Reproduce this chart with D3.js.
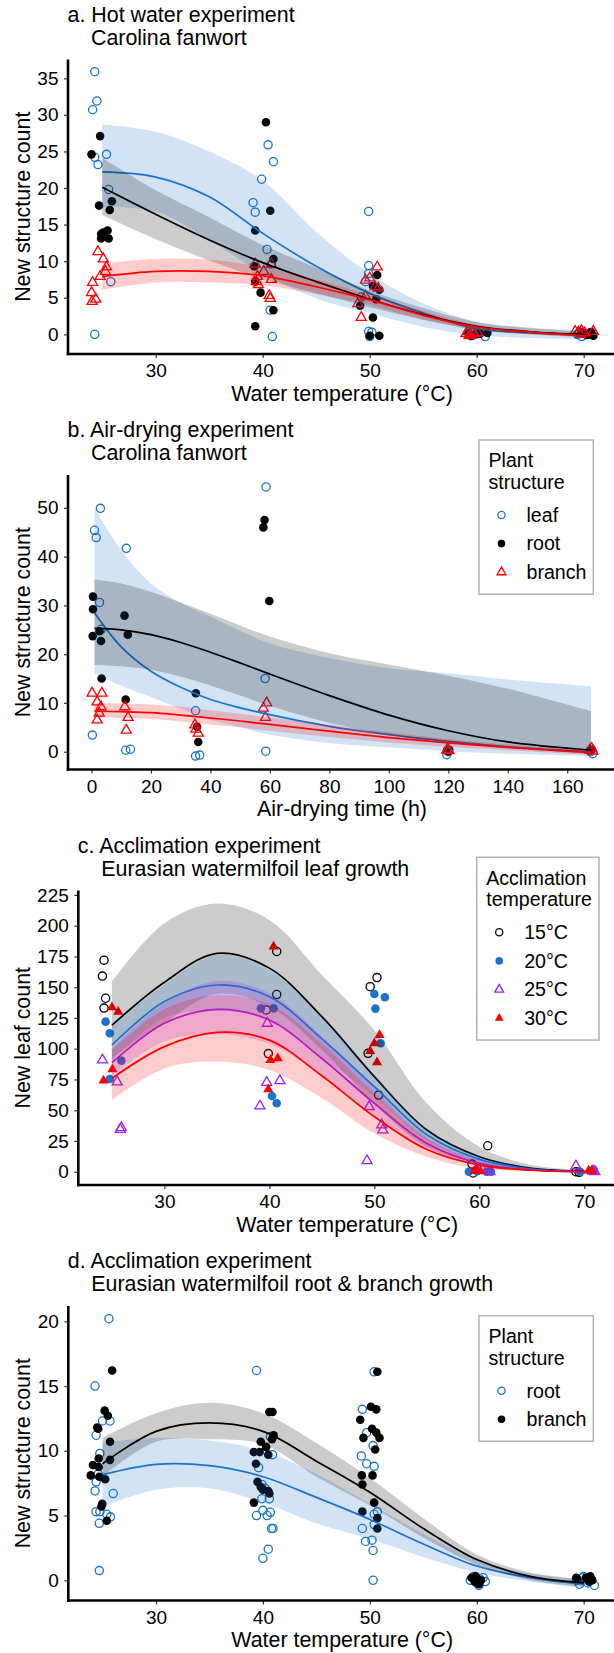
<!DOCTYPE html>
<html>
<head>
<meta charset="utf-8">
<script src="https://cdn.jsdelivr.net/npm/d3@7"></script>
<style>
  body { margin: 0; background: #fff; }
  svg text { font-family: "Liberation Sans", Arial, sans-serif; fill: #000; }
</style>
</head>
<body>
<div id="chart"></div>
<script>
// ---------- data ----------
const tempTicks = [30, 40, 50, 60, 70];
const tempFitX = [25, 30, 35, 40, 45, 50, 55, 60, 65, 70];

// a. hot water experiment
const aLeaf = [[24.3,35.9],[24.5,31.9],[24.1,30.7],[25.4,24.6],[24.3,24.2],[24.6,23.2],[25.6,19.8],[25.8,7.2],[24.3,0],
  [39.1,18.0],[39.3,16.7],[39.9,21.2],[40.5,25.9],[41.0,23.6],[40.4,11.6],[40.8,9.6],[40.7,3.3],[40.9,-0.3],
  [49.9,16.8],[49.9,9.4],[49.9,8.3],[49.6,7.2],[49.2,5.1],[49.9,0.4],[50.2,0.3],[50.0,-0.3],
  [59.3,0],[59.7,0.2],[60.2,0.1],[60.8,-0.3],[59.5,-0.2],[69.4,0],[69.8,-0.3],[70.2,0.1],[70.6,0.2],[69.6,0.3]];
const aRoot = [[24.0,24.6],[24.8,27.1],[24.7,17.6],[25.9,18.2],[25.7,17.0],[24.9,13.7],[25.1,13.9],[25.5,14.2],[24.9,13.1],[25.6,13.1],
  [40.3,29.0],[40.7,16.9],[39.3,14.2],[41.0,10.3],[39.2,9.3],[39.3,7.2],[39.8,5.7],[41.0,3.3],[39.3,1.1],
  [50.7,8.1],[50.3,6.6],[50.6,6.4],[50.9,6.1],[50.6,4.8],[49.1,3.9],[50.3,2.3],[50.0,-0.2],[50.9,-0.2],
  [59.2,0.2],[59.5,-0.2],[59.9,0],[60.3,0.1],[61.0,0.2],[69.9,0.2],[70.3,-0.1],[70.7,0.3],[70.9,-0.2],[70.5,0]];
const aBranch = [[24.6,11.3],[25.1,10.3],[25.4,9.2],[25.3,8.6],[24.8,7.9],[24.1,7.1],[24.0,5.7],[24.4,4.8],[24.05,4.5],
  [39.3,9.6],[40.8,9.6],[40.1,8.6],[39.5,7.9],[40.8,7.5],[39.4,7.2],[39.6,6.8],[40.6,5.3],[40.7,4.9],
  [50.7,9.2],[49.6,7.4],[50.0,7.7],[50.5,6.5],[50.8,6.3],[49.6,5.2],[48.9,4.2],[49.2,2.3],
  [59.0,0.1],[59.2,0.4],[59.4,-0.1],[59.6,0.3],[59.8,0.1],[60.1,0.2],[59.3,-0.2],
  [69.2,0.4],[69.5,0.3],[69.8,0.5],[70.1,0.2],[70.9,0.4],[69.7,0]];
const aLeafFit = [22.2, 21.5, 18.8, 13.8, 9.3, 5.6, 2.9, 0.8, 0.2, -0.1];
const aLeafHi = [28.7, 27.7, 25.0, 21.0, 14.0, 8.3, 4.2, 1.7, 0.8, 0.5];
const aLeafLo = [17.4, 16.8, 12.9, 8.3, 4.9, 2.9, 1.0, -0.1, -0.5, -0.7];
const aRootFit = [20.1, 16.4, 12.9, 9.8, 7.2, 4.8, 2.7, 1.1, 0.35, 0.0];
const aRootHi = [24.1, 19.7, 16.0, 12.2, 9.1, 6.0, 3.6, 1.7, 0.9, 0.4];
const aRootLo = [16.3, 13.0, 10.1, 7.6, 5.6, 3.7, 2.0, 0.6, 0.0, -0.4];
const aBranchFit = [7.9, 8.6, 8.6, 8.0, 6.5, 4.7, 2.6, 1.0, 0.3, -0.2];
const aBranchHi = [9.7, 10.3, 10.2, 9.2, 7.5, 5.4, 3.2, 1.3, 0.5, 0.0];
const aBranchLo = [6.1, 7.1, 7.1, 6.7, 5.5, 4.0, 2.0, 0.7, 0.0, -0.4];

// b. air-drying experiment
const dryTicks = [0, 20, 40, 60, 80, 100, 120, 140, 160];
const dryFitX = [1, 10, 20, 30, 40, 50, 60, 80, 100, 120, 140, 168];
const bLeaf = [[3.0,49.9],[1.0,45.4],[1.6,43.9],[11.7,41.7],[2.7,30.6],[3.3,25.1],[0.3,3.4],[11.5,0.3],[13.1,0.5],
  [35.0,8.4],[35.0,-0.9],[36.4,-0.7],[58.7,54.3],[58.4,15.0],[58.6,0.1],
  [119.5,-0.6],[120,0],[119.8,0.3],[168.2,0.5],[168.6,-0.4],[167.8,0]];
const bRoot = [[0.5,31.8],[0.5,29.2],[0.4,23.7],[2.7,24.7],[3.2,22.7],[3.4,15.0],[11.1,27.9],[12.2,24.0],[11.5,10.7],
  [35.1,12.0],[35.5,5.1],[35.9,2.0],[58.2,47.5],[57.8,46.0],[59.8,30.9],
  [119.6,0.3],[120.3,0.4],[120.0,0.1],[168.0,0.3],[167.5,0.2]];
const bBranch = [[0.2,12.0],[3.5,12.0],[1.9,10.2],[3.2,9.2],[2.6,7.9],[1.9,6.5],[11.2,9.2],[12.3,7.0],[11.7,4.4],
  [34.8,5.5],[35.1,4.6],[35.9,3.8],[58.9,10.0],[57.8,8.9],[58.5,7.0],
  [119.5,0.3],[120.2,0.2],[119.8,0.5],[168.2,0.7],[167.6,0.3],[168.6,0.1]];
const bLeafFit = [28.5, 21.5, 16.5, 13.2, 10.7, 9.0, 7.6, 5.2, 3.5, 2.1, 1.0, 0.0];
const bLeafHi = [50, 41.3, 34.5, 30.5, 27.7, 24.8, 22.2, 19.2, 17.1, 16.1, 14.8, 13.4];
const bLeafLo = [16.1, 13.5, 11.2, 8.8, 6.6, 5.0, 3.5, 1.8, 0.9, 0.1, -0.4, -0.9];
const bRootFit = [25.3, 25.0, 24.0, 22.4, 20.4, 18.2, 15.9, 11.5, 7.5, 4.3, 2.0, 0.3];
const bRootHi = [35.3, 34.5, 32.8, 30.6, 28.3, 25.9, 23.6, 20.2, 17.9, 15.6, 12.9, 8.3];
const bRootLo = [17.8, 17.5, 16.8, 15.4, 13.6, 11.5, 9.4, 5.9, 3.5, 1.8, 0.7, -0.5];
const bBranchFit = [8.3, 8.2, 8.0, 7.5, 6.9, 6.3, 5.6, 4.2, 2.9, 1.8, 0.9, -0.2];
const bBranchHi = [10.0, 9.9, 9.7, 9.2, 8.5, 7.8, 7.0, 5.5, 4.0, 2.6, 1.5, 0.3];
const bBranchLo = [7.0, 6.9, 6.7, 6.2, 5.6, 5.0, 4.3, 3.0, 1.9, 1.0, 0.3, -0.7];

// c. acclimation experiment, leaves
const c15 = [[24.25,172],[24.1,159],[24.4,141],[24.25,133],[39.7,131.5],[40.7,179],[40.7,144],[39.9,96],
  [49.6,150.4],[50.25,157.8],[49.4,96.2],[50.4,62.3],[60.8,21.1],[59.3,6.2],[59.4,-1],[69.2,0],[69.5,-0.5]];
const c20 = [[24.4,122],[24.8,112.5],[24.8,75.4],[25.9,90.3],[39.2,132.8],[40.4,132.8],[40.25,61.5],[40.7,55.6],
  [50,144.5],[51,141.8],[50.1,132.6],[50.6,104.4],[59,0],[59.8,0.5],[60.7,0],[61.1,0],[69.6,0],[70.9,1.5]];
const c25 = [[24.1,90.8],[25.5,73],[25.9,35.8],[25.8,34.4],[39.1,53.4],[39.75,72.6],[41,74],[39.8,120.6],
  [49.5,52.8],[50.7,38],[50.8,33.9],[49.3,8.9],[59.8,1],[60.7,0.8],[61,0],[69.2,4.6],[71,0],[70.8,0.5]];
const c30 = [[25,133.6],[25.6,130],[25.05,83.2],[24.2,74],[40.4,183],[40.1,90.8],[40.8,92.2],[39.9,67],
  [50.5,111.1],[50,104.4],[49.6,98.1],[50.25,88.9],[59.5,0.5],[59.8,0.5],[60.1,0.5],[70.4,1],[70.7,1]];
const c15Fit = [119, 154, 177.5, 165.5, 126, 77.3, 33.9, 12.2, 2.7, 0.5];
const c15Hi = [154.5, 202, 218, 204.7, 160, 115, 55.6, 20.3, 5.4, 1.4];
const c15Lo = [92, 121, 144.5, 134, 99, 55, 20, 7, 1.2, -0.2];
const c20Fit = [103, 138.3, 151.8, 142.3, 108, 69.1, 30, 10, 2.2, 0];
const c20Hi = [118, 152, 176, 164, 125, 78, 35, 12.5, 3, 0.6];
const c20Lo = [90, 125, 131, 124, 93, 61, 25.7, 8, 1.5, -0.4];
const c25Fit = [88.6, 120.6, 132, 123.3, 92, 55.6, 23, 6.8, 1.5, 0];
const c25Hi = [100, 137, 155, 145, 110, 68, 28, 9, 2.2, 0.5];
const c25Lo = [78, 106, 112, 104, 78, 45, 18, 5, 0.8, -0.5];
const c30Fit = [75.9, 101.7, 113.3, 107, 78, 44.7, 18, 5.4, 1.2, 0];
const c30Hi = [98.8, 132, 143.4, 136, 104, 64, 27, 8.5, 2, 0.5];
const c30Lo = [58.3, 84, 89.5, 82.7, 60, 31.2, 12, 2.7, 0.3, -0.8];

// d. acclimation experiment, roots and branches
const dRoot = [[25.6,20.2],[24.3,15.0],[25.0,12.3],[25.7,12.3],[24.4,11.2],[24.75,9.8],[24.6,8.2],[24.4,7.6],[24.3,6.9],[26.0,6.7],
  [24.4,5.3],[24.75,5.3],[25.4,5.1],[25.75,4.9],[24.7,4.4],[24.7,0.75],
  [39.4,16.2],[39.6,8.7],[40.7,11.1],[40.9,9.7],[39.9,7.4],[40.2,7.1],[39.9,6.3],[40.6,6.3],[40.0,5.4],[39.4,5.0],
  [40.4,5.0],[40.7,5.25],[40.8,4.0],[40.95,4.0],[40.5,2.4],[40.0,1.7],
  [50.4,16.1],[49.3,13.2],[49.7,11.4],[50.3,10.4],[49.2,9.6],[49.7,9.0],[50.4,8.8],[50.7,5.3],[50.4,5.1],[50.4,4.3],
  [49.3,4.0],[49.6,3.0],[50.2,3.1],[50.3,2.3],[50.3,0],
  [59.4,0],[59.7,0.3],[60.0,-0.2],[60.3,0.1],[60.6,0.2],[60.8,-0.1],[60.2,-0.4],
  [69.3,0],[69.6,-0.3],[70.0,0.3],[70.4,-0.2],[70.7,0.1],[71.0,-0.4],[69.9,0.2]];
const dBranch = [[25.9,16.2],[25.2,13.1],[25.5,12.7],[24.5,11.8],[24.6,11.7],[25.7,10.7],[24.65,9.4],[25.7,9.3],[24.1,8.9],
  [24.65,8.75],[23.9,8.1],[24.7,8.0],[25.25,7.8],[24.97,5.9],[24.9,5.7],[25.4,4.6],
  [40.6,13.0],[40.9,13.0],[41.0,11.2],[40.85,10.9],[39.8,10.7],[39.15,9.9],[39.7,9.9],[40.3,10.3],[40.5,9.7],[39.35,9.0],
  [39.5,7.6],[39.8,7.2],[40.0,7.0],[40.5,6.9],[40.6,6.7],[39.15,6.0],
  [50.7,16.1],[50.1,13.4],[50.6,13.2],[49.1,12.4],[50.2,11.7],[50.6,11.4],[50.9,11.0],[49.4,11.0],[50.5,10.1],[49.25,8.1],
  [50.25,8.1],[49.3,7.4],[50.4,6.0],[49.3,5.3],[50.7,4.8],[50.7,4.0],
  [59.5,0.2],[59.8,-0.1],[60.0,0.1],[60.2,-0.3],[60.4,0],[59.9,0.3],[60.1,-0.2],
  [69.4,0.1],[70.2,0.2],[70.5,-0.1],[70.6,0.3],[70.8,0],[70.3,0.1],[69.3,0.2]];
const dRootFit = [8.15, 8.95, 8.85, 8.0, 6.4, 4.7, 2.8, 1.1, 0.2, -0.3];
const dRootHi = [10.6, 11.0, 10.8, 10.0, 8.2, 5.9, 3.6, 1.6, 0.5, 0.05];
const dRootLo = [5.7, 7.0, 7.1, 6.0, 4.4, 3.2, 1.8, 0.6, -0.1, -0.6];
const dBranchFit = [9.0, 11.5, 12.15, 11.5, 9.2, 6.8, 4.0, 1.6, 0.3, -0.2];
const dBranchHi = [11.0, 12.9, 13.7, 12.9, 10.6, 7.9, 4.8, 2.0, 0.6, 0.1];
const dBranchLo = [8.0, 10.7, 10.9, 10.5, 8.0, 5.8, 3.3, 1.2, 0.0, -0.5];

// ---------- colours ----------
const BLUE = "#1874CD", RED = "#FF0000", PURPLE = "#A020F0", BLACK = "#000000";

// Define the dimensions for the SVG
const width = 614, height = 1653;
const panelStep = 415.5;
const plotTop = 59.5, plotBottom = 354, plotRight = 619;

const svg = d3.select("#chart")
  .append("svg")
  .attr("width", width)
  .attr("height", height);

// draw one marker (circle / triangle, open / filled)
function mark(g, kind, color, cx, cy, k) {
  k = k || 1;
  if (kind === "circle" || kind === "dot") {
    g.append("circle")
      .attr("cx", cx).attr("cy", cy)
      .attr("r", (kind === "dot" ? 4.3 : 4.1) * k)
      .attr("fill", kind === "dot" ? color : "none")
      .attr("stroke", kind === "dot" ? "none" : color)
      .attr("stroke-width", 1.3);
  } else {
    g.append("path")
      .attr("d", d3.symbol(d3.symbolTriangle, 44 * k * k)())
      .attr("transform", `translate(${cx},${cy})`)
      .attr("fill", kind === "tri" ? color : "none")
      .attr("stroke", kind === "tri" ? "none" : color)
      .attr("stroke-width", 1.3);
  }
}

function drawPanel(p, i) {
  const g = svg.append("g").attr("transform", `translate(0,${i * panelStep})`);

  const x = d3.scaleLinear().domain(p.xDomain).range([p.left, plotRight]);
  const y = d3.scaleLinear().domain(p.yDomain).range([plotBottom, plotTop]);

  // points first, the smooth ribbons go on top of them
  p.series.forEach(s => {
    s.pts.forEach(d => mark(g, s.kind, s.color, x(d[0]), y(d[1])));
  });

  // ribbons and fitted lines
  p.series.forEach(s => {
    const rows = p.fitX.map((t, j) => ({ t: t, fit: s.fit[j], lo: s.lo[j], hi: s.hi[j] }));
    const area = d3.area()
      .x(d => x(d.t))
      .y0(d => y(d.lo))
      .y1(d => y(d.hi))
      .curve(d3.curveCatmullRom);
    const line = d3.line()
      .x(d => x(d.t))
      .y(d => y(d.fit))
      .curve(d3.curveCatmullRom);
    g.append("path")
      .datum(rows)
      .attr("fill", s.color)
      .attr("fill-opacity", 0.2)
      .attr("d", area);
    g.append("path")
      .datum(rows)
      .attr("fill", "none")
      .attr("stroke", s.color)
      .attr("stroke-width", 1.7)
      .attr("d", line);
  });

  // axes
  const xAxis = g.append("g")
    .attr("transform", `translate(0,${plotBottom})`)
    .call(d3.axisBottom(x).tickValues(p.xTicks).tickSize(4).tickSizeOuter(0).tickPadding(6));
  const yAxis = g.append("g")
    .attr("transform", `translate(${p.left},0)`)
    .call(d3.axisLeft(y).tickValues(p.yTicks).tickSize(4).tickSizeOuter(0).tickPadding(5.5));
  [xAxis, yAxis].forEach(a => {
    a.select(".domain").remove();
    a.selectAll(".tick line").attr("stroke", "#333").attr("stroke-width", 1.2);
    a.selectAll(".tick text")
      .style("font-size", "19px")
      .style("font-family", "'Liberation Sans', Arial, sans-serif")
      .attr("fill", "#1a1a1a");
  });

  // thick axis lines
  g.append("line")
    .attr("x1", p.left).attr("x2", p.left)
    .attr("y1", plotTop).attr("y2", plotBottom + 1.3)
    .attr("stroke", "#000").attr("stroke-width", 2.6);
  g.append("line")
    .attr("x1", p.left - 1.3).attr("x2", width)
    .attr("y1", plotBottom).attr("y2", plotBottom)
    .attr("stroke", "#000").attr("stroke-width", 2.6);

  // axis titles
  g.append("text")
    .attr("x", (p.left + width) / 2 + 1)
    .attr("y", plotBottom + 46.5)
    .attr("text-anchor", "middle")
    .style("font-size", "21.4px")
    .text(p.xLabel);
  g.append("text")
    .attr("transform", `translate(30,${(plotTop + plotBottom) / 2}) rotate(-90)`)
    .attr("text-anchor", "middle")
    .style("font-size", "21.4px")
    .text(p.yLabel);

  // two line title
  g.append("text")
    .attr("x", p.left - 0.5).attr("y", 21.5)
    .style("font-size", "21.4px")
    .text(p.title[0]);
  g.append("text")
    .attr("x", p.left + 23).attr("y", 44.5)
    .style("font-size", "21.4px")
    .text(p.title[1]);

  // legend box
  if (p.legend) {
    const L = p.legend;
    const lg = g.append("g");
    const bottom = L.top + 75 + (p.series.length - 1) * 28.6 + 22;
    lg.append("rect")
      .attr("x", L.left).attr("y", L.top)
      .attr("width", L.right - L.left).attr("height", bottom - L.top)
      .attr("fill", "#fff")
      .attr("stroke", "#b3b3b3")
      .attr("stroke-width", 1.5);
    L.title.forEach((t, j) => {
      lg.append("text")
        .attr("x", L.left + 9.5).attr("y", L.top + 27.3 + j * 21.7)
        .style("font-size", "19.6px")
        .text(t);
    });
    p.series.forEach((s, j) => {
      const cy = L.top + 75 + j * 28.6;
      mark(lg, s.kind, s.color, L.left + 22.5, cy, 0.88);
      lg.append("text")
        .attr("x", L.left + 47.5).attr("y", cy)
        .attr("dy", "0.35em")
        .style("font-size", "19.6px")
        .text(s.name);
    });
  }
}

const tempLabel = "Water temperature (°C)";

const panels = [
  {
    title: ["a. Hot water experiment", "Carolina fanwort"],
    xLabel: tempLabel, yLabel: "New structure count",
    left: 68, xDomain: [21.8, 73.3], yDomain: [-2.69, 37.57],
    xTicks: tempTicks, yTicks: [0, 5, 10, 15, 20, 25, 30, 35], fitX: tempFitX,
    series: [
      { name: "leaf", kind: "circle", color: BLUE, pts: aLeaf, fit: aLeafFit, lo: aLeafLo, hi: aLeafHi },
      { name: "root", kind: "dot", color: BLACK, pts: aRoot, fit: aRootFit, lo: aRootLo, hi: aRootHi },
      { name: "branch", kind: "triOpen", color: RED, pts: aBranch, fit: aBranchFit, lo: aBranchLo, hi: aBranchHi }
    ],
    legend: null
  },
  {
    title: ["b. Air-drying experiment", "Carolina fanwort"],
    xLabel: "Air-drying time (h)", yLabel: "New structure count",
    left: 68, xDomain: [-7.9, 177.4], yDomain: [-3.65, 56.74],
    xTicks: dryTicks, yTicks: [0, 10, 20, 30, 40, 50], fitX: dryFitX,
    series: [
      { name: "leaf", kind: "circle", color: BLUE, pts: bLeaf, fit: bLeafFit, lo: bLeafLo, hi: bLeafHi },
      { name: "root", kind: "dot", color: BLACK, pts: bRoot, fit: bRootFit, lo: bRootLo, hi: bRootHi },
      { name: "branch", kind: "triOpen", color: RED, pts: bBranch, fit: bBranchFit, lo: bBranchLo, hi: bBranchHi }
    ],
    legend: { left: 479, right: 593.3, top: 24.5, title: ["Plant", "structure"] }
  },
  {
    title: ["c. Acclimation experiment", "Eurasian watermilfoil leaf growth"],
    xLabel: tempLabel, yLabel: "New leaf count",
    left: 78.3, xDomain: [21.8, 73.3], yDomain: [-10.8, 228.6],
    xTicks: tempTicks, yTicks: [0, 25, 50, 75, 100, 125, 150, 175, 200, 225], fitX: tempFitX,
    series: [
      { name: "15°C", kind: "circle", color: BLACK, pts: c15, fit: c15Fit, lo: c15Lo, hi: c15Hi },
      { name: "20°C", kind: "dot", color: BLUE, pts: c20, fit: c20Fit, lo: c20Lo, hi: c20Hi },
      { name: "25°C", kind: "triOpen", color: PURPLE, pts: c25, fit: c25Fit, lo: c25Lo, hi: c25Hi },
      { name: "30°C", kind: "tri", color: RED, pts: c30, fit: c30Fit, lo: c30Lo, hi: c30Hi }
    ],
    legend: { left: 476.7, right: 599, top: 26.3, title: ["Acclimation", "temperature"] }
  },
  {
    title: ["d. Acclimation experiment", "Eurasian watermilfoil root & branch growth"],
    xLabel: tempLabel, yLabel: "New structure count",
    left: 68.3, xDomain: [21.8, 73.3], yDomain: [-1.56, 21.18],
    xTicks: tempTicks, yTicks: [0, 5, 10, 15, 20], fitX: tempFitX,
    series: [
      { name: "root", kind: "circle", color: BLUE, pts: dRoot, fit: dRootFit, lo: dRootLo, hi: dRootHi },
      { name: "branch", kind: "dot", color: BLACK, pts: dBranch, fit: dBranchFit, lo: dBranchLo, hi: dBranchHi }
    ],
    legend: { left: 479, right: 593.3, top: 69.2, title: ["Plant", "structure"] }
  }
];

panels.forEach(drawPanel);
</script>
</body>
</html>
